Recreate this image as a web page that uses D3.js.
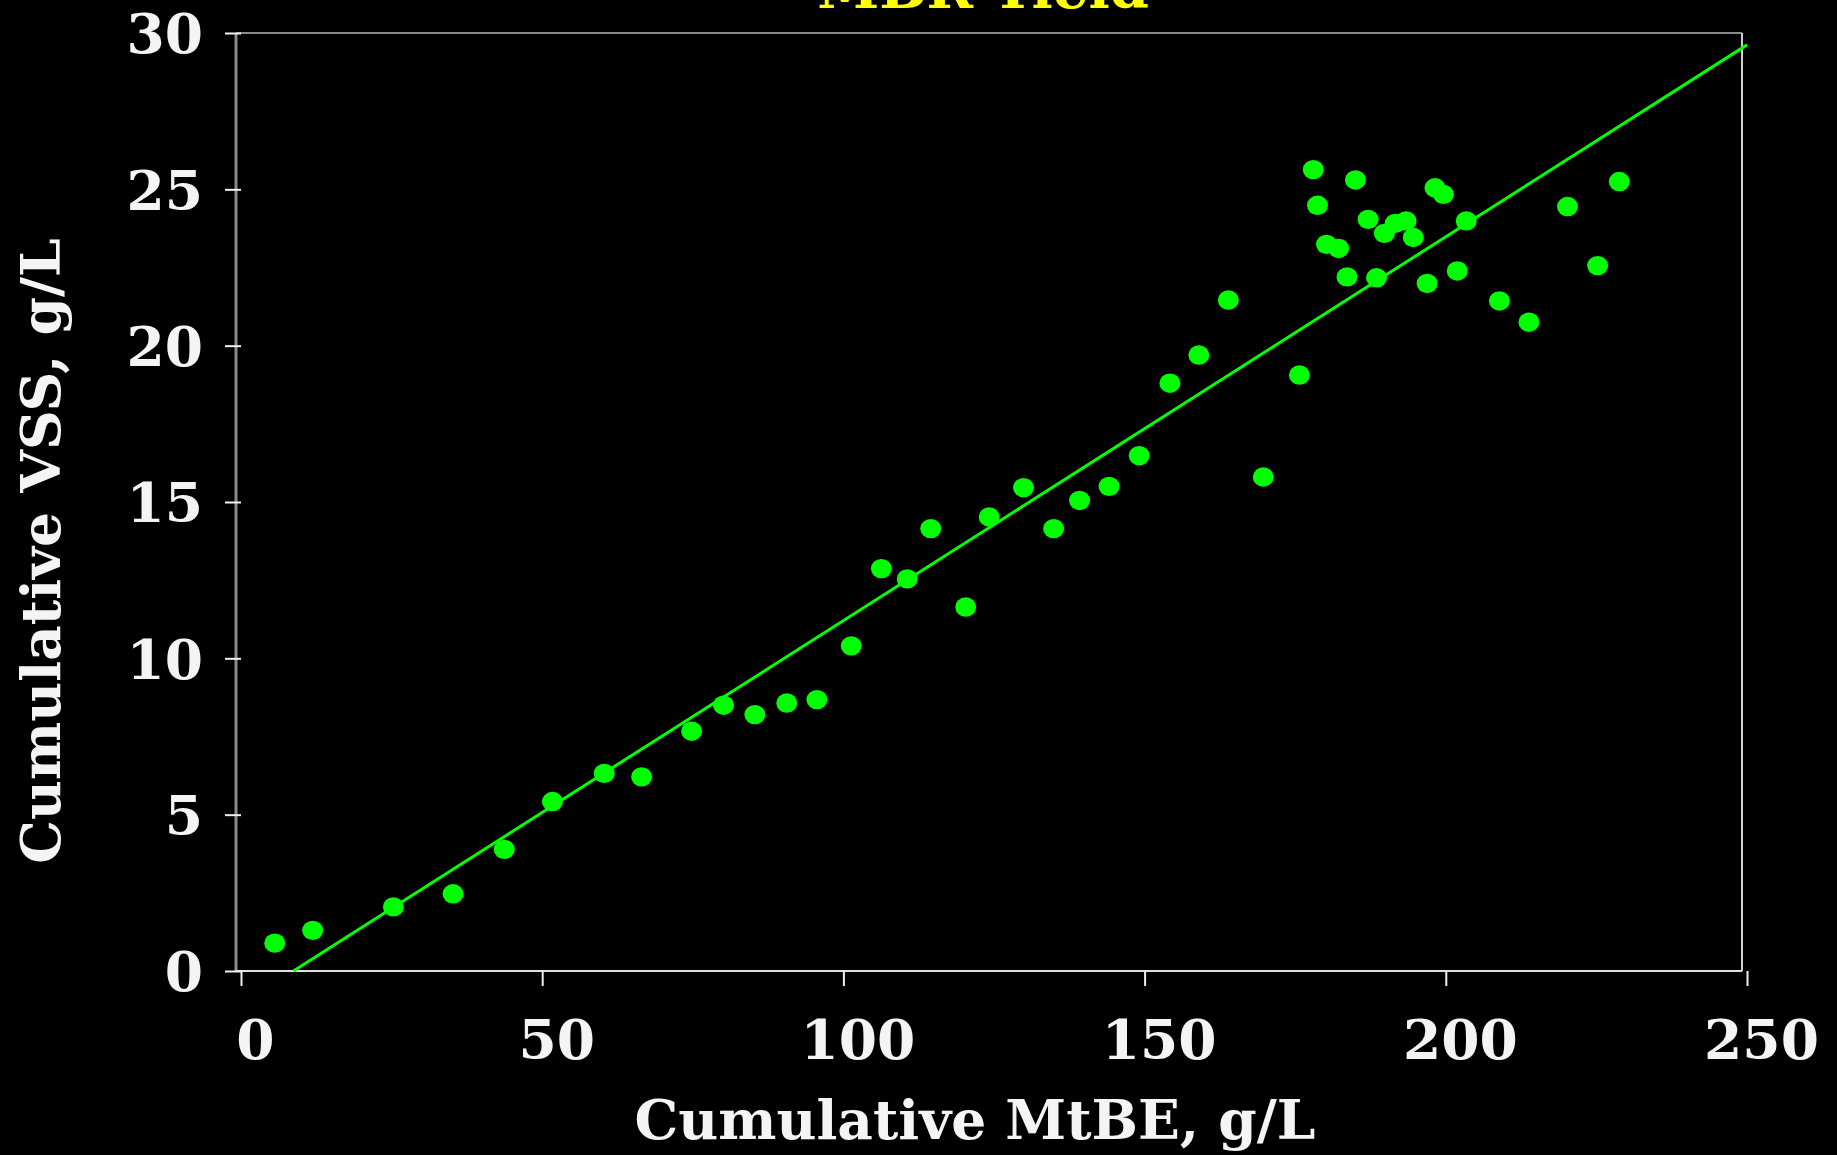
<!DOCTYPE html>
<html>
<head>
<meta charset="utf-8">
<script src="https://cdn.jsdelivr.net/npm/d3@7"></script>
<style>
  html, body { margin: 0; padding: 0; background: #000; }
  svg { display: block; }
  text { font-family: "DejaVu Serif", serif; font-weight: bold; }
</style>
</head>
<body>
<svg id="chart" width="1837" height="1155"></svg>
<script>
// Cumulative MtBE degraded (g/L) against cumulative VSS produced (g/L)
const mtbe = [5.6, 11.9, 25.3, 35.2, 43.7, 51.7, 60.3, 66.5, 74.8, 80.1,
  85.3, 90.6, 95.6, 101.3, 106.3, 110.6, 114.5, 120.3, 124.2, 129.9,
  134.9, 139.2, 144.1, 149.1, 154.2, 159.0, 163.9, 169.7, 175.7, 178.0,
  178.7, 180.2, 182.2, 183.6, 185.0, 187.1, 188.5, 189.8, 191.6, 193.4,
  194.6, 196.9, 198.2, 199.6, 201.9, 203.4, 208.9, 213.8, 220.2, 225.2, 228.8];
const vss = [0.89, 1.30, 2.05, 2.47, 3.89, 5.42, 6.32, 6.21, 7.67, 8.50,
  8.20, 8.57, 8.68, 10.40, 12.87, 12.54, 14.15, 11.64, 14.52, 15.46,
  14.15, 15.05, 15.50, 16.48, 18.80, 19.70, 21.46, 15.80, 19.06, 25.63,
  24.49, 23.24, 23.11, 22.20, 25.30, 24.04, 22.17, 23.59, 23.91, 23.99,
  23.46, 21.99, 25.05, 24.84, 22.39, 23.99, 21.43, 20.75, 24.45, 22.56, 25.25];

// Linear yield fit, end points
const fitX = [8.7, 250];
const fitY = [0, 29.62];

const xTicks = [0, 50, 100, 150, 200, 250];
const yTicks = [0, 5, 10, 15, 20, 25, 30];

const chartTitle = "MBR Yield";
const xTitle = "Cumulative MtBE, g/L";
const yTitle = "Cumulative VSS, g/L";

const svg = d3.select("#chart");
svg.append("rect").attr("width", 1837).attr("height", 1155).attr("fill", "#000");

const x = d3.scaleLinear().domain([0, 250]).range([241, 1747]);
const y = d3.scaleLinear().domain([0, 30]).range([971, 33]);

// plot frame
const frame = { left: 236, right: 1742, top: 33, bottom: 971 };
svg.append("line").attr("x1", frame.left).attr("x2", frame.right)
  .attr("y1", frame.top).attr("y2", frame.top)
  .attr("stroke", "#8a8a8a").attr("stroke-width", 2);
svg.append("line").attr("x1", frame.left).attr("x2", frame.left)
  .attr("y1", frame.top).attr("y2", frame.bottom)
  .attr("stroke", "#8a8a8a").attr("stroke-width", 3);
svg.append("line").attr("x1", frame.right).attr("x2", frame.right)
  .attr("y1", frame.top).attr("y2", frame.bottom)
  .attr("stroke", "#d0d0d0").attr("stroke-width", 2);
svg.append("line").attr("x1", frame.left).attr("x2", frame.right)
  .attr("y1", frame.bottom).attr("y2", frame.bottom)
  .attr("stroke", "#e0e0e0").attr("stroke-width", 2);

// axes
const xAxis = svg.append("g").attr("transform", "translate(0,971)")
  .call(d3.axisBottom(x).tickValues(xTicks).tickSize(15).tickPadding(34).tickFormat(d3.format("d")));
xAxis.select(".domain").remove();
xAxis.selectAll(".tick line").attr("stroke", "#f0f0f0").attr("stroke-width", 2);
xAxis.selectAll(".tick text").attr("fill", "#f4f4f4").attr("font-size", 55)
  .attr("dx", 14).style("font-family", "'DejaVu Serif', serif").style("font-weight", "bold");

const yAxis = svg.append("g").attr("transform", "translate(241,0)")
  .call(d3.axisLeft(y).tickValues(yTicks).tickSize(16).tickPadding(22).tickFormat(d3.format("d")));
yAxis.select(".domain").remove();
yAxis.selectAll(".tick line").attr("stroke", "#f0f0f0").attr("stroke-width", 2);
yAxis.selectAll(".tick text").attr("fill", "#f4f4f4").attr("font-size", 55)
  .attr("dy", "0.36em").style("font-family", "'DejaVu Serif', serif").style("font-weight", "bold");

// regression line
svg.append("line")
  .attr("x1", x(fitX[0])).attr("y1", y(fitY[0]))
  .attr("x2", x(fitX[1])).attr("y2", y(fitY[1]))
  .attr("stroke", "#00ff00").attr("stroke-width", 3);

// data points
svg.append("g").selectAll("ellipse")
  .data(d3.zip(mtbe, vss))
  .join("ellipse")
  .attr("cx", d => x(d[0])).attr("cy", d => y(d[1]))
  .attr("rx", 10.5).attr("ry", 9.7)
  .attr("fill", "#00ff00");

// titles
svg.append("text").attr("x", 983).attr("y", 8).attr("text-anchor", "middle")
  .attr("font-size", 56).attr("fill", "#ffff00").text(chartTitle);
svg.append("text").attr("x", 975).attr("y", 1139).attr("text-anchor", "middle")
  .attr("font-size", 55).attr("fill", "#f4f4f4").text(xTitle);
svg.append("text").attr("transform", "translate(60,551) rotate(-90)")
  .attr("text-anchor", "middle").attr("font-size", 55).attr("fill", "#f4f4f4").text(yTitle);
</script>
</body>
</html>
